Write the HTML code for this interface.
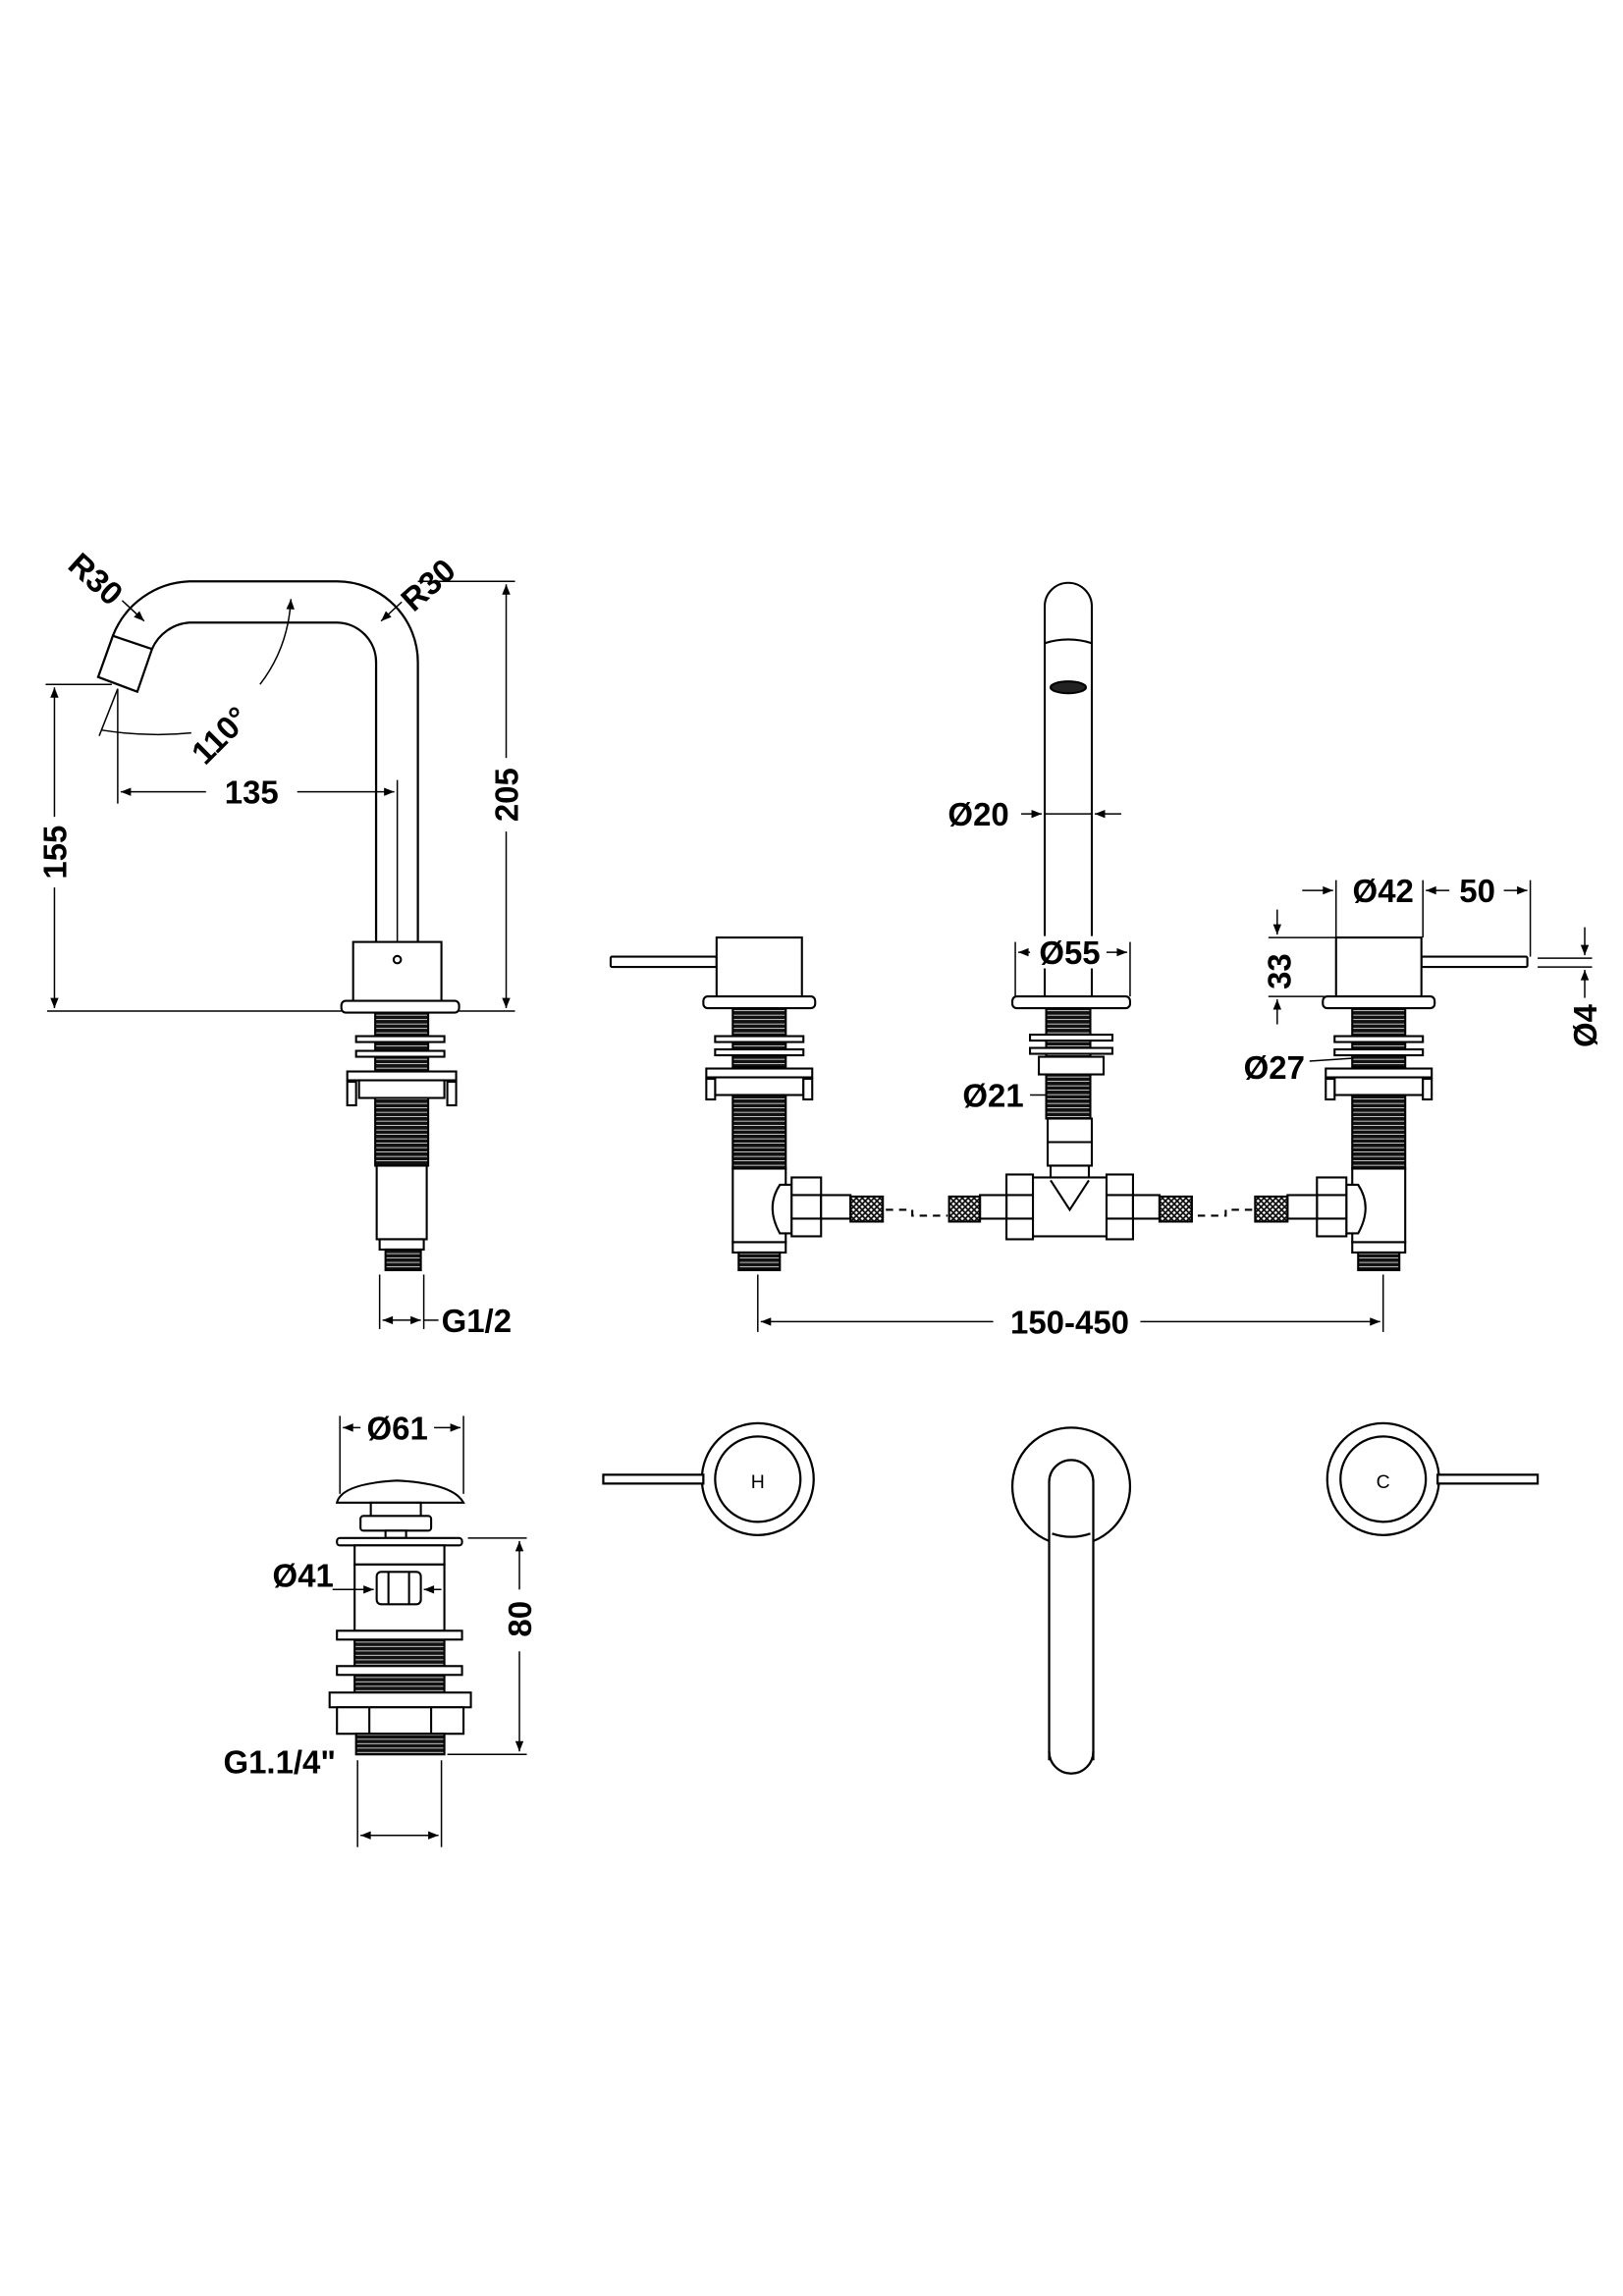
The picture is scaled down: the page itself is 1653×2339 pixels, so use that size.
<!DOCTYPE html>
<html><head><meta charset="utf-8"><style>
html,body{margin:0;padding:0;background:#fff}
svg{display:block}
text{font-family:"Liberation Sans",sans-serif;font-weight:bold;fill:#000}
</style></head><body>
<svg width="1653" height="2339" viewBox="0 0 1103 1560" preserveAspectRatio="none" xmlns="http://www.w3.org/2000/svg">
<defs>
<pattern id="th" width="6" height="3" patternUnits="userSpaceOnUse"><rect width="6" height="3" fill="#fff"/><rect width="6" height="2.5" fill="#111"/></pattern>
<pattern id="br" width="4" height="4" patternUnits="userSpaceOnUse"><rect width="4" height="4" fill="#fff"/><path d="M0,0 L4,4 M4,0 L0,4" stroke="#111" stroke-width="1.2"/></pattern>
<marker id="a" viewBox="0 0 10 10" refX="10" refY="5" markerWidth="9" markerHeight="7" orient="auto-start-reverse" markerUnits="userSpaceOnUse"><path d="M0,1 L10,5 L0,9 Z" fill="#000"/></marker>
<g id="valve" fill="#fff" stroke="#000" stroke-width="1.4">
 <rect x="-101" y="650" width="72" height="7" rx="1"/>
 <rect x="-29" y="637" width="58" height="40"/>
 <rect x="-38" y="677" width="76" height="8" rx="3"/>
 <rect x="-18" y="685" width="36" height="40" fill="url(#th)"/>
 <rect x="-30" y="704" width="60" height="4"/>
 <rect x="-30" y="713" width="60" height="4"/>
 <rect x="-36" y="726" width="72" height="6"/>
 <rect x="-30" y="732" width="60" height="12"/>
 <rect x="-36" y="733" width="6" height="14"/><rect x="30" y="733" width="6" height="14"/>
 <rect x="-18" y="744" width="36" height="50" fill="url(#th)"/>
 <rect x="-18" y="794" width="36" height="50"/>
 <rect x="-18" y="844" width="36" height="7"/>
 <rect x="-14" y="851" width="28" height="12" fill="url(#th)"/>
 <path d="M14,805 Q4,820 14,838 L22,838 L22,805 Z"/>
 <rect x="22" y="800" width="20" height="40"/>
 <line x1="22" y1="812" x2="42" y2="812"/><line x1="22" y1="828" x2="42" y2="828"/>
 <rect x="42" y="812" width="20" height="16"/>
 <rect x="62" y="813" width="22" height="17" fill="url(#br)"/>
 <path d="M86,822 L104,822 L104,826 L128,826" fill="none" stroke-dasharray="5,4"/>
</g>
</defs>

<g fill="none" stroke="#000" stroke-width="1.5">
<!-- LEFT SIDE TAP -->
<path d="M76.7,432 A58 58 0 0 1 128.8,395 L229,395 A55 55 0 0 1 284,450 L284,640"/>
<path d="M103.3,441 A30 30 0 0 1 128.8,423 L229,423 A27 27 0 0 1 255.6,450 L255.6,640"/>
<path d="M76.7,432 L103.3,441 L93.3,470 L66.7,460 Z" fill="#fff"/>
<path d="M80,468 L67.4,500" stroke-width="1"/>
<path d="M68.7,496 Q100,501 130,498" stroke-width="1"/>
<path d="M176.7,465 Q196,440 197.7,407" stroke-width="1" marker-end="url(#a)"/>
<path d="M31,465 L76,465" stroke-width="1"/>
<path d="M80,468 L80,546" stroke-width="1"/>
<path d="M270,530 L270,640" stroke-width="1"/>
<line x1="82" y1="538" x2="268" y2="538" stroke-width="1" marker-start="url(#a)" marker-end="url(#a)"/>
<rect x="140" y="526" width="62" height="24" fill="#fff" stroke="none"/>
<line x1="37" y1="467" x2="37" y2="685" stroke-width="1" marker-start="url(#a)" marker-end="url(#a)"/>
<rect x="25" y="555" width="24" height="48" fill="#fff" stroke="none"/>
<line x1="284" y1="395" x2="350" y2="395" stroke-width="1"/>
<line x1="32" y1="687" x2="232" y2="687" stroke-width="1"/>
<line x1="312" y1="687" x2="350" y2="687" stroke-width="1"/>
<line x1="344" y1="397" x2="344" y2="685" stroke-width="1" marker-start="url(#a)" marker-end="url(#a)"/>
<rect x="332" y="515" width="24" height="50" fill="#fff" stroke="none"/>
<line x1="83" y1="408" x2="98" y2="422" stroke-width="1" marker-end="url(#a)"/>
<line x1="273" y1="409" x2="259" y2="422" stroke-width="1" marker-end="url(#a)"/>
<g fill="#fff" stroke-width="1.4">
<rect x="240" y="640" width="60" height="40"/>
<circle cx="270" cy="652" r="2.5"/>
<rect x="232" y="680" width="80" height="8" rx="3"/>
<rect x="255" y="688" width="36" height="42" fill="url(#th)"/>
<rect x="242" y="704" width="60" height="4"/>
<rect x="242" y="714" width="60" height="4"/>
<rect x="236" y="728" width="74" height="6"/>
<rect x="244" y="734" width="58" height="12"/>
<rect x="236" y="735" width="6" height="16"/><rect x="304" y="735" width="6" height="16"/>
<rect x="255" y="746" width="36" height="46" fill="url(#th)"/>
<rect x="256" y="792" width="34" height="50"/>
<rect x="258" y="842" width="30" height="7"/>
<rect x="262" y="849" width="24" height="14" fill="url(#th)"/>
</g>
<line x1="258" y1="866" x2="258" y2="903" stroke-width="1"/>
<line x1="288" y1="866" x2="288" y2="903" stroke-width="1"/>
<line x1="260" y1="897" x2="286" y2="897" stroke-width="1" marker-start="url(#a)" marker-end="url(#a)"/>
<line x1="288" y1="897" x2="298" y2="897" stroke-width="1"/>

<!-- FRONT VIEW valves -->
<use href="#valve" transform="translate(516,0)"/>
<use href="#valve" transform="translate(937,0) scale(-1,1)"/>

<!-- spout front -->
<g fill="#fff" stroke-width="1.4">
<path d="M710,677 L710,412 A16 16 0 0 1 742,412 L742,677 Z"/>
<path d="M710,437 Q726,432 742,437" fill="none"/>
<ellipse cx="726" cy="467" rx="12" ry="4" fill="#222"/>
<rect x="688" y="677" width="80" height="8" rx="3"/>
<rect x="711" y="685" width="30" height="75" fill="url(#th)"/>
<rect x="700" y="703" width="56" height="4"/>
<rect x="700" y="712" width="56" height="4"/>
<rect x="706" y="718" width="44" height="12"/>
<rect x="712" y="760" width="30" height="32"/>
<line x1="712" y1="776" x2="742" y2="776"/>
<rect x="714" y="792" width="26" height="10"/>
<rect x="700" y="800" width="55" height="40"/>
<path d="M714,802 L727,822 L740,802"/>
<rect x="684" y="798" width="18" height="44"/>
<rect x="752" y="798" width="18" height="44"/>
<line x1="684" y1="812" x2="702" y2="812"/><line x1="684" y1="828" x2="702" y2="828"/>
<line x1="752" y1="812" x2="770" y2="812"/><line x1="752" y1="828" x2="770" y2="828"/>
<rect x="666" y="812" width="18" height="16"/>
<rect x="770" y="812" width="18" height="16"/>
<rect x="645" y="813" width="21" height="17" fill="url(#br)"/>
<rect x="788" y="813" width="22" height="17" fill="url(#br)"/>
</g>
<!-- spout dims -->
<line x1="694" y1="553" x2="708" y2="553" stroke-width="1" marker-end="url(#a)"/>
<line x1="762" y1="553" x2="744" y2="553" stroke-width="1" marker-end="url(#a)"/>
<line x1="710" y1="553" x2="742" y2="553" stroke-width="1"/>
<line x1="690" y1="640" x2="690" y2="677" stroke-width="1"/>
<line x1="768" y1="640" x2="768" y2="677" stroke-width="1"/>
<line x1="692" y1="647" x2="766" y2="647" stroke-width="1" marker-start="url(#a)" marker-end="url(#a)"/>
<rect x="700" y="636" width="52" height="22" fill="#fff" stroke="none"/>
<line x1="700" y1="744" x2="711" y2="744" stroke-width="1"/>
<!-- right valve dims -->
<line x1="885" y1="605" x2="906" y2="605" stroke-width="1" marker-end="url(#a)"/>
<line x1="908" y1="598" x2="908" y2="637" stroke-width="1"/>
<line x1="967" y1="598" x2="967" y2="637" stroke-width="1"/>
<line x1="1040" y1="598" x2="1040" y2="650" stroke-width="1"/>
<line x1="969" y1="605" x2="985" y2="605" stroke-width="1" marker-start="url(#a)"/>
<line x1="1022" y1="605" x2="1038" y2="605" stroke-width="1" marker-end="url(#a)"/>
<line x1="862" y1="637" x2="908" y2="637" stroke-width="1"/>
<line x1="862" y1="677" x2="900" y2="677" stroke-width="1"/>
<line x1="868" y1="618" x2="868" y2="635" stroke-width="1" marker-end="url(#a)"/>
<line x1="868" y1="696" x2="868" y2="679" stroke-width="1" marker-end="url(#a)"/>
<line x1="1045" y1="651" x2="1082" y2="651" stroke-width="1"/>
<line x1="1045" y1="657" x2="1082" y2="657" stroke-width="1"/>
<line x1="1077" y1="630" x2="1077" y2="649" stroke-width="1" marker-end="url(#a)"/>
<line x1="1077" y1="678" x2="1077" y2="659" stroke-width="1" marker-end="url(#a)"/>
<line x1="890" y1="721" x2="920" y2="719" stroke-width="1"/>
<!-- 150-450 -->
<line x1="515" y1="866" x2="515" y2="905" stroke-width="1"/>
<line x1="940" y1="866" x2="940" y2="905" stroke-width="1"/>
<line x1="517" y1="898" x2="938" y2="898" stroke-width="1" marker-start="url(#a)" marker-end="url(#a)"/>
<rect x="675" y="886" width="100" height="24" fill="#fff" stroke="none"/>

<!-- WASTE -->
<line x1="231" y1="962" x2="231" y2="1015" stroke-width="1"/>
<line x1="315" y1="962" x2="315" y2="1015" stroke-width="1"/>
<line x1="233" y1="970" x2="313" y2="970" stroke-width="1" marker-start="url(#a)" marker-end="url(#a)"/>
<rect x="245" y="958" width="50" height="24" fill="#fff" stroke="none"/>
<g fill="#fff" stroke-width="1.4">
<path d="M229,1021 Q232,1008 270,1006 Q308,1008 315,1021 Z"/>
<rect x="252" y="1021" width="34" height="10"/>
<rect x="245" y="1030" width="48" height="10" rx="2"/>
<rect x="262" y="1040" width="14" height="5"/>
<rect x="229" y="1045" width="85" height="5" rx="2"/>
<rect x="241" y="1050" width="61" height="13"/>
<rect x="241" y="1063" width="61" height="45"/>
<rect x="256" y="1068" width="30" height="22" rx="3"/>
<line x1="264" y1="1068" x2="264" y2="1090"/><line x1="278" y1="1068" x2="278" y2="1090"/>
<rect x="241" y="1114" width="61" height="42" fill="url(#th)"/>
<rect x="229" y="1108" width="85" height="6"/>
<rect x="229" y="1132" width="85" height="6"/>
<rect x="224" y="1150" width="96" height="10"/>
<rect x="229" y="1160" width="86" height="18"/>
<line x1="251" y1="1160" x2="251" y2="1178"/><line x1="293" y1="1160" x2="293" y2="1178"/>
<rect x="242" y="1178" width="60" height="14" fill="url(#th)"/>
</g>
<line x1="226" y1="1080" x2="254" y2="1080" stroke-width="1" marker-end="url(#a)"/>
<line x1="288" y1="1080" x2="300" y2="1080" stroke-width="1" marker-start="url(#a)"/>
<line x1="318" y1="1045" x2="358" y2="1045" stroke-width="1"/>
<line x1="304" y1="1192" x2="358" y2="1192" stroke-width="1"/>
<line x1="353" y1="1047" x2="353" y2="1190" stroke-width="1" marker-start="url(#a)" marker-end="url(#a)"/>
<rect x="341" y="1080" width="24" height="42" fill="#fff" stroke="none"/>
<line x1="243" y1="1196" x2="243" y2="1255" stroke-width="1"/>
<line x1="300" y1="1196" x2="300" y2="1255" stroke-width="1"/>
<line x1="245" y1="1247" x2="298" y2="1247" stroke-width="1" marker-start="url(#a)" marker-end="url(#a)"/>

<!-- PLAN VIEWS -->
<circle cx="515" cy="1005" r="38"/>
<circle cx="515" cy="1005" r="29"/>
<rect x="410" y="1002" width="68" height="6" fill="#fff"/>
<circle cx="940" cy="1005" r="38"/>
<circle cx="940" cy="1005" r="29"/>
<rect x="977" y="1002" width="68" height="6" fill="#fff"/>
<circle cx="728" cy="1010" r="40"/>
<path d="M713,1196 L713,1007 A15 15 0 0 1 743,1007 L743,1196" fill="#fff"/>
<path d="M713,1190 A15 15 0 0 0 743,1190" />
<path d="M715,1042 A40 40 0 0 0 741,1042" fill="none"/>
</g>

<g font-size="22">
<text x="171" y="546" text-anchor="middle">135</text>
<text transform="translate(45,579) rotate(-90)" text-anchor="middle">155</text>
<text transform="translate(352,540) rotate(-90)" text-anchor="middle">205</text>
<text transform="translate(155,505) rotate(-45)" text-anchor="middle">110°</text>
<text transform="translate(60,399) rotate(42)" text-anchor="middle">R30</text>
<text transform="translate(296,403) rotate(-42)" text-anchor="middle">R30</text>
<text x="300" y="905">G1/2</text>
<text x="665" y="561" text-anchor="middle">Ø20</text>
<text x="727" y="655" text-anchor="middle">Ø55</text>
<text x="675" y="752" text-anchor="middle">Ø21</text>
<text x="940" y="613" text-anchor="middle">Ø42</text>
<text x="1004" y="613" text-anchor="middle">50</text>
<text transform="translate(877,660) rotate(-90)" text-anchor="middle">33</text>
<text transform="translate(1085,697) rotate(-90)" text-anchor="middle">Ø4</text>
<text x="866" y="733" text-anchor="middle">Ø27</text>
<text x="727" y="906" text-anchor="middle">150-450</text>
<text x="270" y="978" text-anchor="middle">Ø61</text>
<text x="206" y="1078" text-anchor="middle">Ø41</text>
<text transform="translate(361,1100) rotate(-90)" text-anchor="middle">80</text>
<text x="190" y="1205" text-anchor="middle">G1.1/4"</text>
</g>
<g font-size="13">
<text x="515" y="1011" text-anchor="middle" style="font-weight:normal">H</text>
<text x="940" y="1011" text-anchor="middle" style="font-weight:normal">C</text>
</g>
</svg>
</body></html>
